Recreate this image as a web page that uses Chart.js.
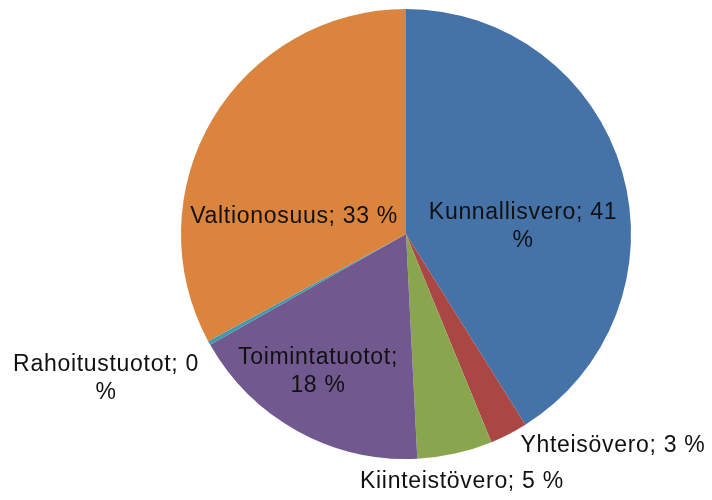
<!DOCTYPE html>
<html>
<head>
<meta charset="utf-8">
<script src="https://cdn.jsdelivr.net/npm/chart.js@4"></script>
<style>
  html, body { margin: 0; padding: 0; background: #fff; }
  #wrap { width: 712px; height: 500px; }
</style>
</head>
<body>
<div id="wrap"><canvas id="pie"></canvas></div>
<script>
// Tulojen jakauma
const categories = ["Kunnallisvero", "Yhteisövero", "Kiinteistövero", "Toimintatuotot", "Rahoitustuotot", "Valtionosuus"];
const shares = [41.1, 2.7, 5.4, 17.6, 0.3, 32.9];
const colors = ["#4572A7", "#AA4643", "#89A54E", "#71588F", "#4198AF", "#DB843D"];

// label anchors: r = fraction of radius, a = degrees clockwise from 12 o'clock
// wrap: where Excel broke the line
const labelPlace = [
  { r: 0.521, a: 86.6, wrap: "pct" },
  { r: 1.317, a: 135.7 },
  { r: 1.13, a: 167.3 },
  { r: 0.728, a: 212.5, wrap: "semi" },
  { r: 1.481, a: 244.2, wrap: "pct" },
  { r: 0.503, a: 278.6 }
];

function labelLines(i) {
  const name = categories[i];
  const pct = Math.round(shares[i]) + " %";
  const w = labelPlace[i].wrap;
  if (w === "pct") return [name + "; " + pct.split(" ")[0], "%"];
  if (w === "semi") return [name + ";", pct];
  return [name + "; " + pct];
}

const pieLabels = {
  id: "pieLabels",
  afterDatasetsDraw(chart) {
    const ctx = chart.ctx;
    const arcs = chart.getDatasetMeta(0).data;
    ctx.save();
    ctx.font = "23px 'Liberation Sans', Arial, sans-serif";
    ctx.letterSpacing = "0.7px";
    ctx.fillStyle = "#111";
    ctx.textAlign = "center";
    ctx.textBaseline = "middle";
    const lh = 28;
    arcs.forEach((arc, i) => {
      const p = labelPlace[i];
      const ang = (p.a - 90) * Math.PI / 180;
      const cx = arc.x + Math.cos(ang) * arc.outerRadius * p.r;
      const cy = arc.y + Math.sin(ang) * arc.outerRadius * p.r;
      const lines = labelLines(i);
      const y0 = cy - (lines.length - 1) * lh / 2;
      lines.forEach((t, k) => ctx.fillText(t, cx, y0 + k * lh));
    });
    ctx.restore();
  }
};

new Chart(document.getElementById("pie"), {
  type: "pie",
  data: {
    labels: categories,
    datasets: [{
      data: shares,
      backgroundColor: colors,
      borderWidth: 0
    }]
  },
  options: {
    responsive: true,
    maintainAspectRatio: false,
    animation: false,
    layout: { padding: { left: 181, right: 81, top: 9, bottom: 41 } },
    plugins: {
      legend: { display: false },
      tooltip: { enabled: false }
    }
  },
  plugins: [pieLabels]
});
</script>
</body>
</html>
